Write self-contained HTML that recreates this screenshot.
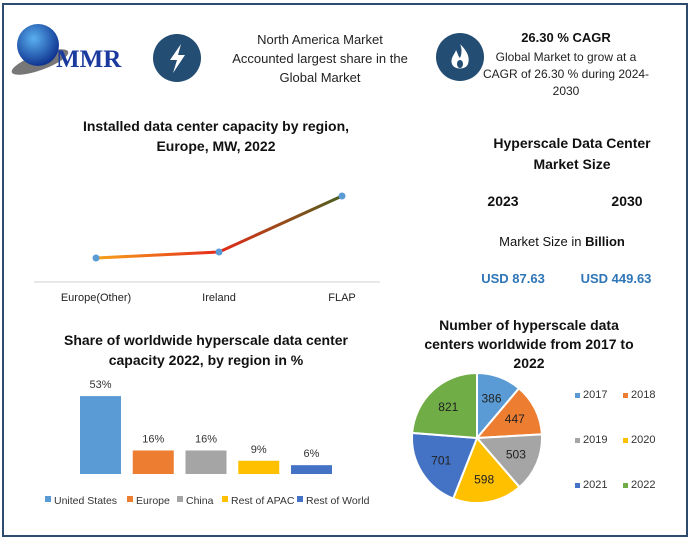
<!DOCTYPE html>
<html><head><meta charset="utf-8"><style>
body{margin:0;background:#fff;font-family:"Liberation Sans",sans-serif;}
svg text{font-family:"Liberation Sans",sans-serif;}
</style></head><body>
<svg width="693" height="541" viewBox="0 0 693 541" xmlns="http://www.w3.org/2000/svg">
<defs>
<linearGradient id="lg" x1="0" x2="1"><stop offset="0" stop-color="#f7a21b"/><stop offset="0.5" stop-color="#e52a1a"/><stop offset="0.75" stop-color="#9a4a1a"/><stop offset="1" stop-color="#4b5e1e"/></linearGradient>
<radialGradient id="globe" cx="0.4" cy="0.35" r="0.7"><stop offset="0" stop-color="#5ab0f0"/><stop offset="1" stop-color="#0a2c8a"/></radialGradient>
</defs>
<rect x="3" y="4" width="684" height="532" fill="#fff" stroke="#2d4b6e" stroke-width="2"/>
<g>
<ellipse cx="40" cy="62" rx="30" ry="8" fill="#777" transform="rotate(-20 40 62)"/>
<circle cx="38" cy="45" r="21" fill="url(#globe)"/>
<text x="56" y="67" font-weight="bold" font-size="25" fill="#1a3a9e" style="font-family:'Liberation Serif',serif">MMR</text>
</g>
<g>
<circle cx="177" cy="58" r="24" fill="#234d72"/>
<path d="M181 44 L170 60 L177 60 L173 73 L185 55 L178 55 Z" fill="#fff"/>
</g>
<text x="320" y="44" font-size="13" text-anchor="middle" fill="#222">North America Market<tspan x="320" dy="19">Accounted largest share in the</tspan><tspan x="320" dy="19">Global Market</tspan></text>
<g>
<circle cx="460" cy="57" r="24" fill="#234d72"/>
<path d="M460 44 C468 52 470 58 468 64 C466 70 454 70 452 64 C450 58 455 54 456 50 C458 54 458 56 460 58 C462 54 462 48 460 44 Z" fill="#fff"/>
<ellipse cx="460" cy="64" rx="3" ry="4" fill="#234d72"/>
</g>
<text x="566" y="42" font-size="13" font-weight="bold" text-anchor="middle" fill="#111">26.30 % CAGR</text>
<text x="566" y="61" font-size="12" text-anchor="middle" fill="#222">Global Market to grow at a<tspan x="566" dy="17">CAGR of 26.30 % during 2024-</tspan><tspan x="566" dy="17">2030</tspan></text>

<text x="216" y="131" font-size="14" font-weight="bold" text-anchor="middle" fill="#111">Installed data center capacity by region,<tspan x="216" dy="20">Europe, MW, 2022</tspan></text>
<g id="line-chart"></g>

<text x="572" y="148" font-size="14" font-weight="bold" text-anchor="middle" fill="#111">Hyperscale Data Center<tspan x="572" dy="21">Market Size</tspan></text>
<text x="503" y="206" font-size="14" font-weight="bold" text-anchor="middle" fill="#111">2023</text>
<text x="627" y="206" font-size="14" font-weight="bold" text-anchor="middle" fill="#111">2030</text>
<text x="562" y="246" font-size="13" text-anchor="middle" fill="#111">Market Size in <tspan font-weight="bold">Billion</tspan></text>
<text x="513" y="283" font-size="13" font-weight="bold" text-anchor="middle" fill="#2e75b6">USD 87.63</text>
<text x="616" y="283" font-size="13" font-weight="bold" text-anchor="middle" fill="#2e75b6">USD 449.63</text>

<text x="206" y="345" font-size="14" font-weight="bold" text-anchor="middle" fill="#111">Share of worldwide hyperscale data center<tspan x="206" dy="20">capacity 2022, by region in %</tspan></text>
<g id="bar-chart"></g>

<text x="529" y="330" font-size="14" font-weight="bold" text-anchor="middle" fill="#111">Number of hyperscale data<tspan x="529" dy="19">centers worldwide from 2017 to</tspan><tspan x="529" dy="19">2022</tspan></text>
<g id="pie-chart"></g>
</svg>
<script>
const NS="http://www.w3.org/2000/svg";
const lineCategories=["Europe(Other)","Ireland","FLAP"];
const lineValues=[1200,1500,4300];
const barCategories=["United States","Europe","China","Rest of APAC","Rest of World"];
const barValues=[53,16,16,9,6];
const barColors=["#5b9bd5","#ed7d31","#a5a5a5","#ffc000","#4472c4"];
const pieCategories=["2017","2018","2019","2020","2021","2022"];
const pieValues=[386,447,503,598,701,821];
const pieColors=["#5b9bd5","#ed7d31","#a5a5a5","#ffc000","#4472c4","#70ad47"];
function mk(tag,attrs,parent){const e=document.createElementNS(NS,tag);for(const k in attrs)e.setAttribute(k,attrs[k]);parent.appendChild(e);return e;}

const lc=document.getElementById('line-chart');
const lx=i=>96+i*123, ly=v=>282-v*0.02;
let ax=mk('line',{x1:34,y1:282,x2:380,y2:282,stroke:'#d0d0d0'},lc);


let pl=mk('polyline',{points:lineValues.map((v,i)=>lx(i)+','+ly(v)).join(' '),fill:'none',stroke:'url(#lg)','stroke-width':3},lc);


lineValues.forEach((v,i)=>{
 const c=mk('circle',{cx:lx(i),cy:ly(v),r:3.5,fill:'#5b9bd5'},lc);
 
 
 const t=mk('text',{x:lx(i),y:301,'font-size':11,'text-anchor':'middle',fill:'#222'},lc);t.textContent=lineCategories[i];
 
 
});

const bc=document.getElementById('bar-chart');
const by=v=>474-v*1.47;
barValues.forEach((v,i)=>{
 const x=80+i*52.75;
 const r=mk('rect',{x:x,y:by(v),width:41,height:474-by(v),fill:barColors[i]},bc);
 
 
 const t=mk('text',{x:x+20.5,y:by(v)-8,'font-size':11,'text-anchor':'middle',fill:'#333'},bc);t.textContent=v+'%';
 
 
});
const legX=[45,127,177,222,297];
barCategories.forEach((c,i)=>{
 const s=mk('rect',{x:legX[i],y:496,width:6,height:6,fill:barColors[i]},bc);
 
 
 const t=mk('text',{x:legX[i]+9,y:504,'font-size':10.5,fill:'#333'},bc);t.textContent=c;
 
 
});

const pc=document.getElementById('pie-chart');
const cx=477,cy=438,R=65;
const total=pieValues.reduce((a,b)=>a+b,0);
let a0=-Math.PI/2;
pieValues.forEach((v,i)=>{
 const a1=a0+v/total*2*Math.PI;
 const large=(a1-a0)>Math.PI?1:0;
 const d=`M${cx},${cy} L${cx+R*Math.cos(a0)},${cy+R*Math.sin(a0)} A${R},${R} 0 ${large} 1 ${cx+R*Math.cos(a1)},${cy+R*Math.sin(a1)} Z`;
 const p=mk('path',{d:d,fill:pieColors[i],stroke:'#fff','stroke-width':2},pc);
 
 
 const am=(a0+a1)/2;
 const t=mk('text',{x:cx+R*0.65*Math.cos(am),y:cy+R*0.65*Math.sin(am)+4,'font-size':12,'text-anchor':'middle',fill:'#222'},pc);t.textContent=v;
 
 
 a0=a1;
});
pieCategories.forEach((c,i)=>{
 const x=575+(i%2)*48, y=397+Math.floor(i/2)*45;
 const s=mk('rect',{x:x,y:y-4,width:5,height:5,fill:pieColors[i]},pc);
 
 
 const t=mk('text',{x:x+8,y:y+1,'font-size':11,fill:'#333'},pc);t.textContent=c;
 
 
});
</script>
</body></html>
